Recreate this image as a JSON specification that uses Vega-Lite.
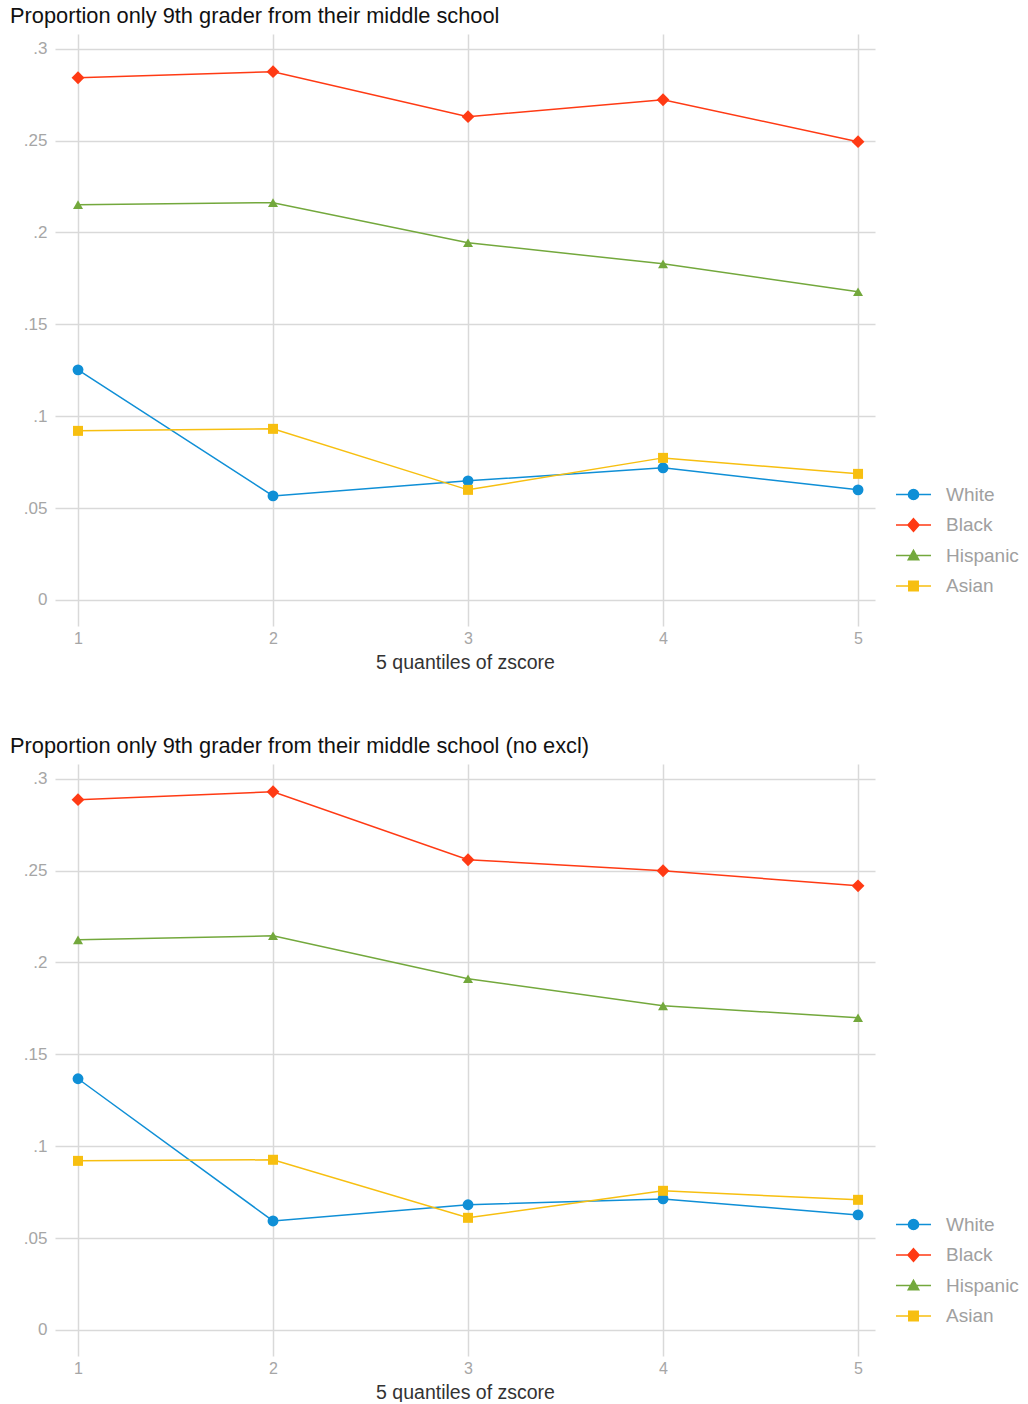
{
  "$schema": "https://vega.github.io/schema/vega-lite/v6.json",
  "background": "white",
  "padding": {"left": 10, "top": 6, "right": 0, "bottom": 0},
  "spacing": 64,
  "config": {
    "font": "Liberation Sans",
    "view": {"stroke": null},
    "axis": {
      "domain": false,
      "ticks": false,
      "grid": true,
      "gridColor": "#d9d9d9",
      "gridWidth": 1.5,
      "labelColor": "#a6a6a6",
      "labelFontSize": 16,
      "titleColor": "#333333",
      "titleFontSize": 19.5,
      "titleFontWeight": "normal"
    },
    "legend": {
      "title": null,
      "orient": "none",
      "legendX": 840,
      "legendY": 442,
      "symbolSize": 1225,
      "symbolType": {"expr": "datum.value === 'White' ? 'M-1,0H1M-0.29,0A0.29,0.29 0 1,1 0.29,0A0.29,0.29 0 1,1 -0.29,0Z' : datum.value === 'Black' ? 'M-1,0H1M0,-0.36L0.32,0L0,0.36L-0.32,0Z' : datum.value === 'Hispanic' ? 'M-1,0H1M0,-0.3L0.3,0.24L-0.3,0.24Z' : 'M-1,0H1M-0.27,-0.27H0.27V0.27H-0.27Z'"},
      "symbolFillColor": {"expr": "datum.value === 'White' ? '#0f8fd6' : datum.value === 'Black' ? '#ff3a14' : datum.value === 'Hispanic' ? '#73a83c' : '#f7bf10'"},
      "symbolStrokeColor": {"expr": "datum.value === 'White' ? '#0f8fd6' : datum.value === 'Black' ? '#ff3a14' : datum.value === 'Hispanic' ? '#73a83c' : '#f7bf10'"},
      "symbolStrokeWidth": 1.5,
      "symbolOpacity": 1,
      "labelFontSize": 19,
      "labelColor": "#a0a0a0",
      "labelOffset": 14,
      "rowPadding": 1.5
    },
    "title": {"fontSize": 21.8, "fontWeight": "normal", "color": "#111111", "anchor": "start", "frame": "group", "dx": -45, "offset": 6}
  },
  "datasets": {
    "p1": [
      {"q": 1, "race": "White", "p": 0.1252}, {"q": 2, "race": "White", "p": 0.0566}, {"q": 3, "race": "White", "p": 0.0648}, {"q": 4, "race": "White", "p": 0.0719}, {"q": 5, "race": "White", "p": 0.0599},
      {"q": 1, "race": "Black", "p": 0.2842}, {"q": 2, "race": "Black", "p": 0.2875}, {"q": 3, "race": "Black", "p": 0.2630}, {"q": 4, "race": "Black", "p": 0.2722}, {"q": 5, "race": "Black", "p": 0.2494},
      {"q": 1, "race": "Hispanic", "p": 0.2151}, {"q": 2, "race": "Hispanic", "p": 0.2162}, {"q": 3, "race": "Hispanic", "p": 0.1944}, {"q": 4, "race": "Hispanic", "p": 0.1829}, {"q": 5, "race": "Hispanic", "p": 0.1677},
      {"q": 1, "race": "Asian", "p": 0.0920}, {"q": 2, "race": "Asian", "p": 0.0931}, {"q": 3, "race": "Asian", "p": 0.0599}, {"q": 4, "race": "Asian", "p": 0.0773}, {"q": 5, "race": "Asian", "p": 0.0686}
    ],
    "p2": [
      {"q": 1, "race": "White", "p": 0.1367}, {"q": 2, "race": "White", "p": 0.0593}, {"q": 3, "race": "White", "p": 0.0681}, {"q": 4, "race": "White", "p": 0.0713}, {"q": 5, "race": "White", "p": 0.0626},
      {"q": 1, "race": "Black", "p": 0.2886}, {"q": 2, "race": "Black", "p": 0.2929}, {"q": 3, "race": "Black", "p": 0.2559}, {"q": 4, "race": "Black", "p": 0.2499}, {"q": 5, "race": "Black", "p": 0.2417},
      {"q": 1, "race": "Hispanic", "p": 0.2123}, {"q": 2, "race": "Hispanic", "p": 0.2145}, {"q": 3, "race": "Hispanic", "p": 0.1911}, {"q": 4, "race": "Hispanic", "p": 0.1764}, {"q": 5, "race": "Hispanic", "p": 0.1699},
      {"q": 1, "race": "Asian", "p": 0.0920}, {"q": 2, "race": "Asian", "p": 0.0926}, {"q": 3, "race": "Asian", "p": 0.0610}, {"q": 4, "race": "Asian", "p": 0.0757}, {"q": 5, "race": "Asian", "p": 0.0708}
    ]
  },
  "resolve": {"scale": {"color": "independent"}, "legend": {"color": "independent"}},
  "vconcat": [
    {
      "title": "Proportion only 9th grader from their middle school",
      "width": 820,
      "height": 592,
      "data": {"name": "p1"},
      "encoding": {
        "x": {"field": "q", "type": "quantitative", "scale": {"domain": [0.882, 5.087], "nice": false, "zero": false}, "axis": {"values": [1, 2, 3, 4, 5], "format": "d", "labelPadding": 4, "title": "5 quantiles of zscore", "titlePadding": 7}},
        "y": {"field": "p", "type": "quantitative", "scale": {"domain": [-0.0142, 0.308], "nice": false, "zero": false}, "axis": {"values": [0, 0.05, 0.1, 0.15, 0.2, 0.25, 0.3], "labelExpr": "datum.value == 0 ? '0' : replace(format(datum.value, ''), '0.', '.')", "labelPadding": 8, "labelFontSize": 17, "title": null}},
        "color": {"field": "race", "type": "nominal", "scale": {"domain": ["White", "Black", "Hispanic", "Asian"], "range": ["#0f8fd6", "#ff3a14", "#73a83c", "#f7bf10"]}}
      },
      "layer": [
        {"mark": {"type": "line", "strokeWidth": 1.5}},
        {"mark": {"type": "point", "filled": true, "opacity": 1,
          "size": {"expr": "datum.race === 'Black' ? 165 : datum.race === 'White' ? 118 : 100"},
          "shape": {"expr": "datum.race === 'White' ? 'circle' : datum.race === 'Black' ? 'diamond' : datum.race === 'Hispanic' ? 'triangle-up' : 'square'"}}}
      ]
    },
    {
      "title": "Proportion only 9th grader from their middle school (no excl)",
      "width": 820,
      "height": 592,
      "data": {"name": "p2"},
      "encoding": {
        "x": {"field": "q", "type": "quantitative", "scale": {"domain": [0.882, 5.087], "nice": false, "zero": false}, "axis": {"values": [1, 2, 3, 4, 5], "format": "d", "labelPadding": 4, "title": "5 quantiles of zscore", "titlePadding": 7}},
        "y": {"field": "p", "type": "quantitative", "scale": {"domain": [-0.0142, 0.308], "nice": false, "zero": false}, "axis": {"values": [0, 0.05, 0.1, 0.15, 0.2, 0.25, 0.3], "labelExpr": "datum.value == 0 ? '0' : replace(format(datum.value, ''), '0.', '.')", "labelPadding": 8, "labelFontSize": 17, "title": null}},
        "color": {"field": "race", "type": "nominal", "scale": {"domain": ["White", "Black", "Hispanic", "Asian"], "range": ["#0f8fd6", "#ff3a14", "#73a83c", "#f7bf10"]}}
      },
      "layer": [
        {"mark": {"type": "line", "strokeWidth": 1.5}},
        {"mark": {"type": "point", "filled": true, "opacity": 1,
          "size": {"expr": "datum.race === 'Black' ? 165 : datum.race === 'White' ? 118 : 100"},
          "shape": {"expr": "datum.race === 'White' ? 'circle' : datum.race === 'Black' ? 'diamond' : datum.race === 'Hispanic' ? 'triangle-up' : 'square'"}}}
      ]
    }
  ]
}
